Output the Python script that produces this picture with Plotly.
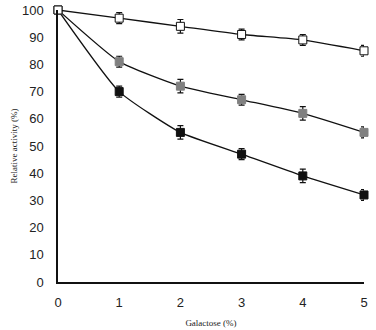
import plotly.graph_objects as go

galactose = [0, 1, 2, 3, 4, 5]
open_vals = [100, 97, 94, 91, 89, 85]
grey_vals = [100, 81, 72, 67, 62, 55]
black_vals = [100, 70, 55, 47, 39, 32]
err_open = [0, 2, 2.5, 2, 2, 2]
err_grey = [0, 2, 2.5, 2, 2.5, 2]
err_black = [0, 2, 2.5, 2, 2.5, 2]
y_ticks = [0, 10, 20, 30, 40, 50, 60, 70, 80, 90, 100]
x_ticks = [0, 1, 2, 3, 4, 5]

fig = go.Figure()
series = [
    (black_vals, err_black, "#111111", "#111111"),
    (grey_vals, err_grey, "#808080", "#808080"),
    (open_vals, err_open, "white", "#111111"),
]
for vals, err, fill, edge in series:
    fig.add_trace(go.Scatter(
        x=galactose, y=vals, mode="lines+markers",
        line=dict(color="#111111", width=1.3, shape="spline", smoothing=0.5),
        marker=dict(symbol="square", size=8, color=fill, line=dict(color=edge, width=1)),
        error_y=dict(type="data", array=err, color="#111111", thickness=1.2, width=3),
        cliponaxis=False, showlegend=False,
    ))

fig.update_layout(
    width=376, height=330,
    margin=dict(l=58, r=12, t=10, b=48),
    plot_bgcolor="white", paper_bgcolor="white",
    font=dict(family="Liberation Sans, Arial, sans-serif", size=13, color="#222222"),
)
fig.update_xaxes(
    range=[0, 5], tickvals=x_ticks, showgrid=False, zeroline=False, automargin=False,
    showline=True, linecolor="#111111", linewidth=1.5, ticks="", ticklabelstandoff=8,
    title=dict(text="Galactose (%)", font=dict(family="Liberation Serif, Times New Roman, serif", size=9), standoff=10),
)
fig.update_yaxes(
    range=[0, 100], tickvals=y_ticks, showgrid=False, zeroline=False, automargin=False,
    showline=True, linecolor="#111111", linewidth=1.5, ticks="", ticklabelstandoff=10,
    title=dict(text="Relative activity (%)", font=dict(family="Liberation Serif, Times New Roman, serif", size=9), standoff=3),
)
fig.write_html("out.html", config={"displayModeBar": False},
               post_script="document.body.style.margin='0';document.body.style.padding='0';")
